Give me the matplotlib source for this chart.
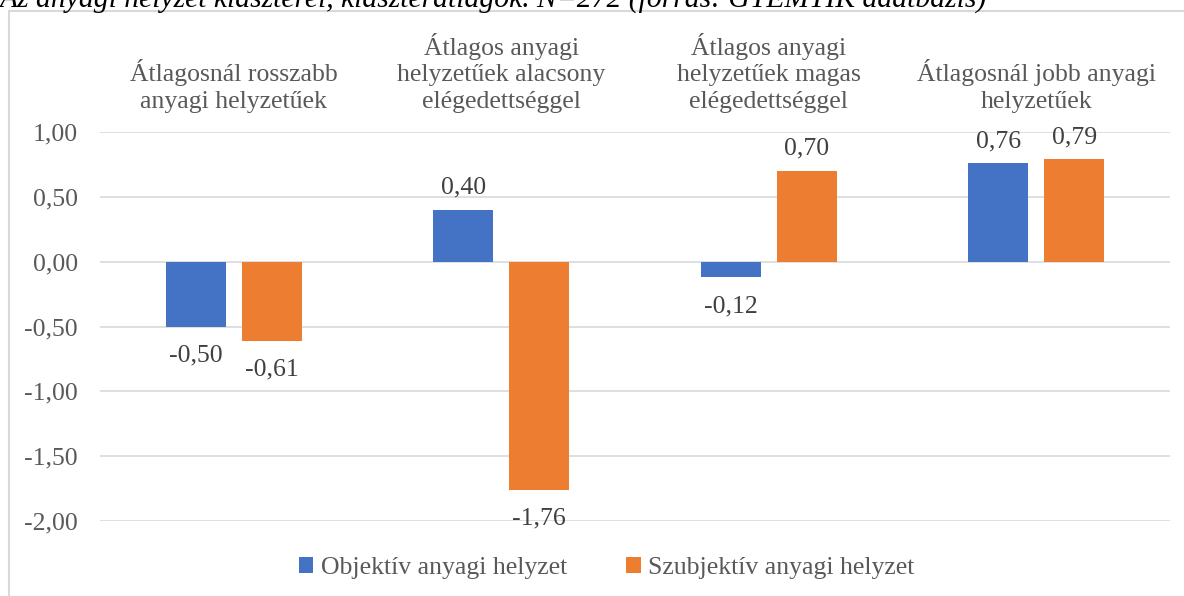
import matplotlib.pyplot as plt
from matplotlib.patches import Rectangle
import numpy as np

categories = [
    "Átlagosnál rosszabb\nanyagi helyzetűek",
    "Átlagos anyagi\nhelyzetűek alacsony\nelégedettséggel",
    "Átlagos anyagi\nhelyzetűek magas\nelégedettséggel",
    "Átlagosnál jobb anyagi\nhelyzetűek",
]
objektiv = [-0.50, 0.40, -0.12, 0.76]
szubjektiv = [-0.61, -1.76, 0.70, 0.79]
series_names = ["Objektív anyagi helyzet", "Szubjektív anyagi helyzet"]
yticks = [1.0, 0.5, 0.0, -0.5, -1.0, -1.5, -2.0]

plt.rcParams['font.family'] = ['Liberation Serif', 'DejaVu Serif']
FS = 18.5

W, H = 1184, 596
fig = plt.figure(figsize=(W / 100, H / 100), dpi=100)

# outer chart border (cut off at right and bottom)
fig.patches.append(Rectangle((9 / W, -0.1), 1.2, 1 - 11 / H + 0.1, transform=fig.transFigure,
                             fill=False, edgecolor='#d9d9d9', linewidth=1.5))

# cropped title
fig.text(0, 1 - 7 / H, "Az anyagi helyzet klaszterei, klaszterátlagok. N=272 (forrás: GYEMTIK adatbázis)",
         fontsize=21.3, style='italic', va='baseline', ha='left', color='black')

ax = fig.add_axes([100 / W, 1 - 521 / H, 1070 / W, (521 - 132) / H])
x = np.arange(len(categories))
bw = 0.224
off = 0.142
b1 = ax.bar(x - off, objektiv, bw, color='#4472c4', label=series_names[0])
b2 = ax.bar(x + off, szubjektiv, bw, color='#ed7d31', label=series_names[1])

ax.set_xlim(-0.5, len(categories) - 0.5)
ax.set_ylim(-2.0, 1.0)
ax.set_yticks(yticks)
ax.set_yticklabels([f"{v:.2f}".replace('.', ',') for v in yticks], fontsize=FS, color='#595959')
ax.tick_params(axis='y', length=0, pad=16)
ax.tick_params(axis='x', length=0)
ax.set_xticks([])
ax.grid(axis='y', color='#d9d9d9', linewidth=1.2)
ax.set_axisbelow(True)
for s in ax.spines.values():
    s.set_visible(False)

for bars in (b1, b2):
    for r in bars:
        v = r.get_height()
        cx = r.get_x() + r.get_width() / 2
        txt = f"{v:.2f}".replace('.', ',')
        if v >= 0:
            ax.annotate(txt, (cx, v), xytext=(0, 8), textcoords='offset points',
                        ha='center', va='bottom', fontsize=FS, color='#404040')
        else:
            ax.annotate(txt, (cx, v), xytext=(0, -13), textcoords='offset points',
                        ha='center', va='top', fontsize=FS, color='#404040')

for i, c in enumerate(categories):
    ax.annotate(c, (i, 1.0), xytext=(0, 14), textcoords='offset points',
                ha='center', va='bottom', fontsize=FS, color='#595959', linespacing=1.24)

fig.legend(handles=[b1, b2], labels=series_names, loc='center', bbox_to_anchor=(607 / W, 1 - 568 / H),
           ncol=2, frameon=False, fontsize=FS, handlelength=0.55, handleheight=0.55,
           handletextpad=0.3, columnspacing=2.3, labelcolor='#595959')

fig.savefig("out.png", dpi=100)
